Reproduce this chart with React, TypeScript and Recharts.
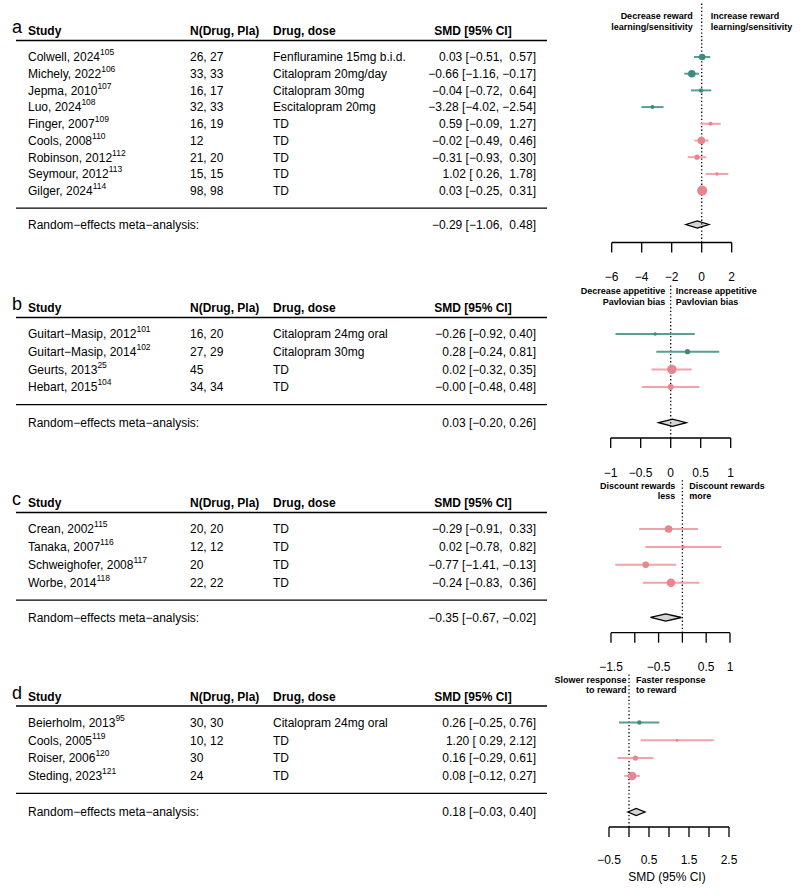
import { ReferenceArea, ReferenceLine, Scatter, ScatterChart, XAxis, YAxis } from 'recharts';

const FONT = '"Liberation Sans", Arial, Helvetica, sans-serif';
const TEAL = '#3f8a80';
const TEAL_CI = '#5b9d94';
const PINK = '#e8858e';
const PINK_CI = '#f0a3a9';

// a: reward learning / sensitivity
const aStudies = ['Colwell, 2024', 'Michely, 2022', 'Jepma, 2010', 'Luo, 2024', 'Finger, 2007', 'Cools, 2008', 'Robinson, 2012', 'Seymour, 2012', 'Gilger, 2024'];
const aRefs = ['105', '106', '107', '108', '109', '110', '112', '113', '114'];
const aN = ['26, 27', '33, 33', '16, 17', '32, 33', '16, 19', '12', '21, 20', '15, 15', '98, 98'];
const aDose = ['Fenfluramine 15mg b.i.d.', 'Citalopram 20mg/day', 'Citalopram 30mg', 'Escitalopram 20mg', 'TD', 'TD', 'TD', 'TD', 'TD'];
const aSmd = [0.03, -0.66, -0.04, -3.28, 0.59, -0.02, -0.31, 1.02, 0.03];
const aLo = [-0.51, -1.16, -0.72, -4.02, -0.09, -0.49, -0.93, 0.26, -0.25];
const aHi = [0.57, -0.17, 0.64, -2.54, 1.27, 0.46, 0.3, 1.78, 0.31];
const aWeight = [11, 14, 5, 4, 4, 14, 7, 3, 25];
const aPooled = [-0.29, -1.06, 0.48];
const aTicks = [-6, -4, -2, 0, 2];
const aLeftNote = ['Decrease reward', 'learning/sensitivity'];
const aRightNote = ['Increase reward', 'learning/sensitivity'];

// b: appetitive Pavlovian bias
const bStudies = ['Guitart−Masip, 2012', 'Guitart−Masip, 2014', 'Geurts, 2013', 'Hebart, 2015'];
const bRefs = ['101', '102', '25', '104'];
const bN = ['16, 20', '27, 29', '45', '34, 34'];
const bDose = ['Citalopram 24mg oral', 'Citalopram 30mg', 'TD', 'TD'];
const bSmd = [-0.26, 0.28, 0.02, -0];
const bLo = [-0.92, -0.24, -0.32, -0.48];
const bHi = [0.4, 0.81, 0.35, 0.48];
const bWeight = [3, 7, 22, 9];
const bPooled = [0.03, -0.2, 0.26];
const bTicks = [-1, -0.5, 0, 0.5, 1];
const bLeftNote = ['Decrease appetitive', 'Pavlovian bias'];
const bRightNote = ['Increase appetitive', 'Pavlovian bias'];

// c: reward discounting
const cStudies = ['Crean, 2002', 'Tanaka, 2007', 'Schweighofer, 2008', 'Worbe, 2014'];
const cRefs = ['115', '116', '117', '118'];
const cN = ['20, 20', '12, 12', '20', '22, 22'];
const cDose = ['TD', 'TD', 'TD', 'TD'];
const cSmd = [-0.29, 0.02, -0.77, -0.24];
const cLo = [-0.91, -0.78, -1.41, -0.83];
const cHi = [0.33, 0.82, -0.13, 0.36];
const cWeight = [14, 3, 11, 18];
const cPooled = [-0.35, -0.67, -0.02];
const cTicks = [-1.5, -1, -0.5, 0, 0.5, 1];
const cTickLabels = [-1.5, -0.5, 0.5, 1];
const cLeftNote = ['Discount rewards', 'less'];
const cRightNote = ['Discount rewards', 'more'];

// d: response speed to reward
const dStudies = ['Beierholm, 2013', 'Cools, 2005', 'Roiser, 2006', 'Steding, 2023'];
const dRefs = ['95', '119', '120', '121'];
const dN = ['30, 30', '10, 12', '30', '24'];
const dDose = ['Citalopram 24mg oral', 'TD', 'TD', 'TD'];
const dSmd = [0.26, 1.2, 0.16, 0.08];
const dLo = [-0.25, 0.29, -0.29, -0.12];
const dHi = [0.76, 2.12, 0.61, 0.27];
const dWeight = [5, 2, 7, 18];
const dPooled = [0.18, -0.03, 0.4];
const dTicks = [-0.5, 0, 0.5, 1, 1.5, 2, 2.5];
const dTickLabels = [-0.5, 0.5, 1.5, 2.5];
const dLeftNote = ['Slower response', 'to reward'];
const dRightNote = ['Faster response', 'to reward'];

const panels = [
  {
    letter: 'a', studies: aStudies, refs: aRefs, n: aN, dose: aDose, smd: aSmd, lo: aLo, hi: aHi, weight: aWeight,
    pooled: aPooled, ticks: aTicks, tickLabels: aTicks, leftNote: aLeftNote, rightNote: aRightNote,
    layout: { top: 3, row0: 57, step: 16.7, re: 224.5, axis: 242.5, x0: 611.7, x1: 731.7, noteY: [15.7, 26.7], gapL: 9, gapR: 9, tickMargin: 20 },
  },
  {
    letter: 'b', studies: bStudies, refs: bRefs, n: bN, dose: bDose, smd: bSmd, lo: bLo, hi: bHi, weight: bWeight,
    pooled: bPooled, ticks: bTicks, tickLabels: bTicks, leftNote: bLeftNote, rightNote: bRightNote,
    layout: { top: 285, row0: 334, step: 17.7, re: 422.7, axis: 438, x0: 610.7, x1: 730.7, noteY: [291, 301.3], gapL: 5.5, gapR: 5, tickMargin: 20 },
  },
  {
    letter: 'c', studies: cStudies, refs: cRefs, n: cN, dose: cDose, smd: cSmd, lo: cLo, hi: cHi, weight: cWeight,
    pooled: cPooled, ticks: cTicks, tickLabels: cTickLabels, leftNote: cLeftNote, rightNote: cRightNote,
    layout: { top: 479, row0: 529, step: 17.9, re: 617.5, axis: 632.7, x0: 611, x1: 730, noteY: [485.7, 496], gapL: 7, gapR: 7, tickMargin: 20 },
  },
  {
    letter: 'd', studies: dStudies, refs: dRefs, n: dN, dose: dDose, smd: dSmd, lo: dLo, hi: dHi, weight: dWeight,
    pooled: dPooled, ticks: dTicks, tickLabels: dTickLabels, leftNote: dLeftNote, rightNote: dRightNote,
    layout: { top: 673, row0: 722.5, step: 17.8, re: 812, axis: 827, x0: 609, x1: 729, noteY: [679.3, 690], gapL: 2.5, gapR: 7, tickMargin: 18.5 },
  },
];

const isNeg = (v: number) => v < 0 || Object.is(v, -0);
const fmt = (v: number) => (isNeg(v) ? '−' : '') + Math.abs(v).toFixed(2);
const fmtTick = (v: number) => (v < 0 ? '−' : '') + String(Math.abs(v));

function ciStrings(p: any) {
  const los = [...p.lo, p.pooled[1]];
  const his = [...p.hi, p.pooled[2]];
  const loPad = los.some(isNeg);
  const hiPad = his.some(isNeg);
  const pad = (v: number, on: boolean) => (on && !isNeg(v) ? ' ' : '') + fmt(v);
  const one = (e: number, l: number, h: number) => `${fmt(e)} [${pad(l, loPad)}, ${pad(h, hiPad)}]`;
  return {
    rows: p.smd.map((e: number, i: number) => one(e, p.lo[i], p.hi[i])),
    pooled: one(p.pooled[0], p.pooled[1], p.pooled[2]),
  };
}

function Table({ p }: { p: any }) {
  const L = p.layout;
  const header = L.row0 - 26;
  const last = L.row0 + (p.studies.length - 1) * L.step;
  const ci = ciStrings(p);
  const base = (y: number) => y + 4.3;
  return (
    <g fontFamily={FONT} fill="#000">
      <text x={12} y={base(header) - 2} fontSize={18}>{p.letter}</text>
      <g fontWeight="bold" fontSize={12}>
        <text x={28} y={base(header)}>Study</text>
        <text x={190} y={base(header)}>N(Drug, Pla)</text>
        <text x={273} y={base(header)}>Drug, dose</text>
        <text x={473} y={base(header)} textAnchor="middle">SMD [95% CI]</text>
      </g>
      <line x1={16} x2={547} y1={L.row0 - 16.5} y2={L.row0 - 16.5} stroke="#000" strokeWidth={1.3} />
      {p.studies.map((s: string, i: number) => {
        const y = base(L.row0 + i * L.step);
        return (
          <g key={s} fontSize={12}>
            <text x={28} y={y}>
              {s}
              <tspan dy={-6} fontSize={8.5}>{p.refs[i]}</tspan>
            </text>
            <text x={190} y={y}>{p.n[i]}</text>
            <text x={273} y={y}>{p.dose[i]}</text>
            <text x={536} y={y} textAnchor="end" xmlSpace="preserve" style={{ whiteSpace: 'pre' }}>{ci.rows[i]}</text>
          </g>
        );
      })}
      <line x1={16} x2={547} y1={last + 17.5} y2={last + 17.5} stroke="#000" strokeWidth={1.3} />
      <text x={28} y={base(L.re)} fontSize={12}>Random−effects meta−analysis:</text>
      <text x={536} y={base(L.re)} fontSize={12} textAnchor="end" xmlSpace="preserve" style={{ whiteSpace: 'pre' }}>{ci.pooled}</text>
    </g>
  );
}

function Forest({ p }: { p: any }) {
  const L = p.layout;
  const yMin = -(L.row0 - L.top) / L.step;
  const yMax = (L.axis - L.row0) / L.step;
  const reRow = (L.re - L.row0) / L.step;
  const half = 3.6 / L.step;
  const points = p.smd.map((v: number, i: number) => ({ x: v, y: i, w: p.weight[i], td: p.dose[i] === 'TD' }));
  const [est, lo, hi] = p.pooled;
  const frac = (est - lo) / (hi - lo);
  const height = L.axis - L.top + 30 + 20;

  const notes = (lp: any) => {
    const x = lp.viewBox.x;
    return (
      <g fontFamily={FONT} fontWeight="bold" fontSize={9} fill="#000">
        {p.leftNote.map((t: string, i: number) => (
          <text key={'l' + i} x={x - L.gapL} y={L.noteY[i] - L.top + 3.2} textAnchor="end">{t}</text>
        ))}
        {p.rightNote.map((t: string, i: number) => (
          <text key={'r' + i} x={x + L.gapR} y={L.noteY[i] - L.top + 3.2}>{t}</text>
        ))}
      </g>
    );
  };

  const tick = (tp: any) => {
    const v = tp.payload.value;
    if (!p.tickLabels.includes(v)) return <g />;
    return (
      <text x={tp.x} y={tp.y} dy="0.71em" textAnchor="middle" fontFamily={FONT} fontSize={12} fill="#000">
        {fmtTick(v)}
      </text>
    );
  };

  return (
    <div style={{ position: 'absolute', left: 0, top: L.top }}>
      <ScatterChart width={800} height={height} margin={{ top: 0, right: 800 - L.x1, bottom: 20, left: L.x0 }}>
        <XAxis
          type="number"
          dataKey="x"
          domain={[p.ticks[0], p.ticks[p.ticks.length - 1]]}
          ticks={p.ticks}
          interval={0}
          allowDataOverflow
          tickSize={10}
          tickMargin={L.tickMargin}
          axisLine={{ stroke: '#000', strokeWidth: 1.3 }}
          tickLine={{ stroke: '#000', strokeWidth: 1.3 }}
          tick={tick}
        />
        <YAxis type="number" dataKey="y" domain={[yMin, yMax]} reversed hide allowDataOverflow />
        <ReferenceLine x={0} stroke="#000" strokeWidth={1.3} strokeDasharray="1.3 2.3" label={notes} />
        {points.map((pt: any, i: number) => (
          <ReferenceLine
            key={i}
            segment={[{ x: p.lo[i], y: i }, { x: p.hi[i], y: i }]}
            stroke={pt.td ? PINK_CI : TEAL_CI}
            strokeWidth={2}
          />
        ))}
        <ReferenceArea
          x1={lo}
          x2={hi}
          y1={reRow - half}
          y2={reRow + half}
          shape={(s: any) => {
            const mx = s.x + frac * s.width;
            const my = s.y + s.height / 2;
            return (
              <polygon
                points={`${s.x},${my} ${mx},${s.y} ${s.x + s.width},${my} ${mx},${s.y + s.height}`}
                fill="#d4d4d4"
                stroke="#000"
                strokeWidth={1.3}
              />
            );
          }}
        />
        <Scatter
          data={points}
          isAnimationActive={false}
          shape={(s: any) => (
            <circle cx={s.cx} cy={s.cy} r={Math.sqrt(s.payload.w)} fill={s.payload.td ? PINK : TEAL} />
          )}
        />
      </ScatterChart>
    </div>
  );
}

export default function App() {
  const d = panels[3].layout;
  return (
    <div style={{ position: 'absolute', left: 0, top: 0, width: 800, height: 888, background: '#fff' }}>
      <svg width={800} height={888} style={{ position: 'absolute', left: 0, top: 0 }}>
        {panels.map((p) => (
          <Table key={p.letter} p={p} />
        ))}
        <text x={(d.x0 + d.x1) / 2 - 2} y={880.5} textAnchor="middle" fontFamily={FONT} fontSize={12} fill="#000">
          SMD (95% CI)
        </text>
      </svg>
      {panels.map((p) => (
        <Forest key={p.letter} p={p} />
      ))}
    </div>
  );
}
